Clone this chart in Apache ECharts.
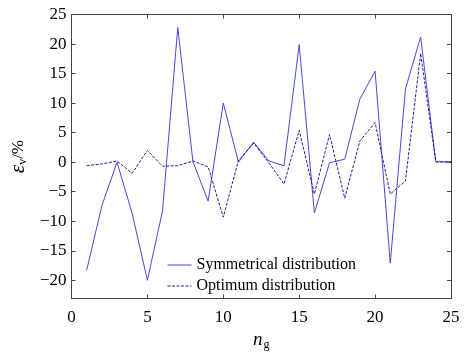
<!DOCTYPE html>
<html><head><meta charset="utf-8">
<script src="https://cdn.jsdelivr.net/npm/echarts@6/dist/echarts.min.js"></script>
<style>html,body{margin:0;padding:0;background:#fff}#c{width:474px;height:356px}</style>
</head><body><div id="c"></div>
<script>
const ng = [1,2,3,4,5,6,7,8,9,10,11,12,13,14,15,16,17,18,19,20,21,22,23,24,25];
const symmetrical = [-18.3,-7.4,0,-8.7,-20.0,-8.2,22.8,0.1,-6.6,10.0,0.0,3.4,0.2,-0.6,19.9,-8.6,-0.1,0.5,10.7,15.4,-17.1,12.4,21.2,0.05,0.05];
const optimum = [-0.6,-0.3,0.2,-1.9,2.0,-0.7,-0.6,0.2,-0.8,-9.3,0.3,3.2,-0.1,-3.7,5.4,-5.4,4.7,-6.1,3.6,6.7,-5.4,-3.2,18.4,0.05,0.05];
const xTicks = [0,5,10,15,20,25];
const yTicks = [-20,-15,-10,-5,0,5,10,15,20,25];

const FONT = 'Liberation Serif';
const fmt = v => yTicks.includes(Math.round(v*1000)/1000) ? String(v).replace('-', '\u2212') : '';
const axisLine = {show:true, onZero:false, lineStyle:{color:'#444', width:1}};
const tick = {show:true, inside:true, length:4, lineStyle:{color:'#444'}};
const chart = echarts.init(document.getElementById('c'), null, {renderer:'canvas'});
chart.setOption({
  animation:false,
  backgroundColor:'#fff',
  grid:{left:64.5, right:23, top:14.5, bottom:48.5},
  legend:{
    left:162, top:252, orient:'vertical', itemWidth:24, itemHeight:12, itemGap:5,
    itemStyle:{opacity:0}, lineStyle:{width:1},
    textStyle:{fontFamily:FONT, fontSize:16, color:'#000'},
    data:['Symmetrical distribution','Optimum distribution']
  },
  xAxis:[{
    type:'value', min:0, max:25, interval:5, position:'bottom',
    axisLine, axisTick:tick, splitLine:{show:false},
    axisLabel:{fontFamily:FONT, fontSize:17, color:'#000', margin:10,
      formatter:v => xTicks.includes(v) ? String(v) : ''},
    name:'{i|n}{s|g}', nameLocation:'middle', nameGap:30,
    nameTextStyle:{rich:{i:{fontFamily:FONT, fontStyle:'italic', fontSize:19, color:'#000'},
                        s:{fontFamily:FONT, fontSize:12, color:'#000', padding:[10,0,0,1]}}}
  },{
    type:'value', min:0, max:25, interval:5, position:'top',
    axisLine, axisTick:tick, axisLabel:{show:false}, splitLine:{show:false}
  }],
  yAxis:[{
    type:'value', min:-23.1, max:25, splitNumber:10, position:'left',
    axisLine, axisTick:tick, splitLine:{show:false},
    axisLabel:{fontFamily:FONT, fontSize:17, color:'#000', margin:5, formatter:fmt, showMinLabel:false},
    name:'{e|\u03b5}{s|v}{p|/%}', nameLocation:'middle', nameGap:42, nameRotate:90,
    nameTextStyle:{rich:{e:{fontFamily:FONT, fontStyle:'italic', fontSize:21, color:'#000'},
                        s:{fontFamily:FONT, fontSize:12, color:'#000', padding:[8,0,0,0]},
                        p:{fontFamily:FONT, fontSize:17, color:'#000'}}}
  },{
    type:'value', min:-23.1, max:25, splitNumber:10, position:'right',
    axisLine, axisTick:tick, axisLabel:{show:false}, splitLine:{show:false}
  }],
  series:[{
    name:'Symmetrical distribution', type:'line', symbol:'none',
    data: ng.map((n,i)=>[n, symmetrical[i]]),
    lineStyle:{color:'#4848e0', width:1, type:'solid'}, itemStyle:{color:'#4848e0'}
  },{
    name:'Optimum distribution', type:'line', symbol:'none',
    data: ng.map((n,i)=>[n, optimum[i]]),
    lineStyle:{color:'#20209a', width:1, type:[3,1.5]}, itemStyle:{color:'#20209a'}
  }]
});
</script></body></html>
